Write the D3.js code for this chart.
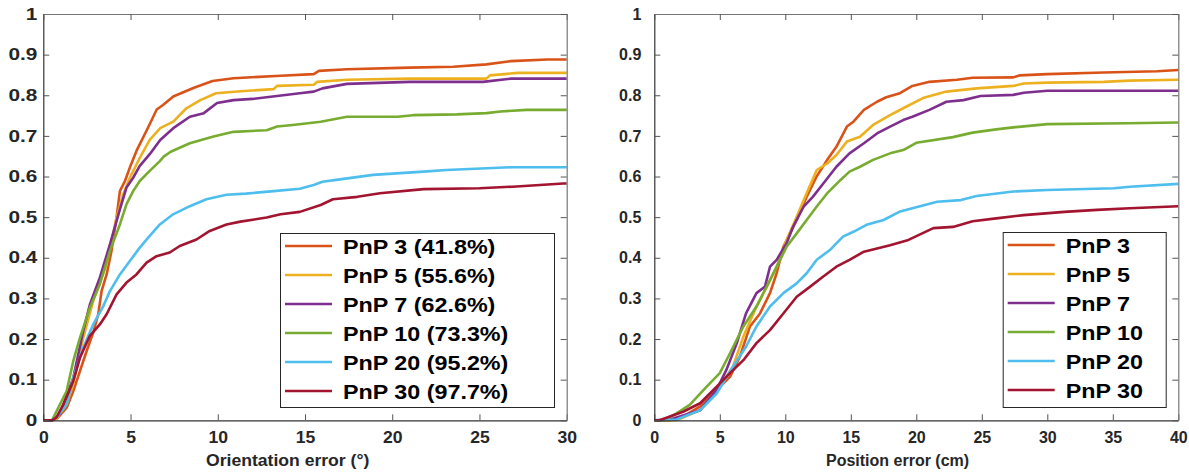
<!DOCTYPE html>
<html>
<head>
<meta charset="utf-8">
<script src="https://cdn.jsdelivr.net/npm/d3@7"></script>
<style>
  body { margin: 0; background: #fff; }
  svg { display: block; }
</style>
</head>
<body>
<svg id="chart" width="1189" height="472"></svg>
<script>
// series names + colours (matlab default order)
const names = ['PnP 3', 'PnP 5', 'PnP 7', 'PnP 10', 'PnP 20', 'PnP 30'];
const percents = ['41.8%', '55.6%', '62.6%', '73.3%', '95.2%', '97.7%'];
const colors = ['#D95319', '#EDB120', '#7E2F8E', '#77AC30', '#4DBEEE', '#A2142F'];

const yTicks = [0, 0.1, 0.2, 0.3, 0.4, 0.5, 0.6, 0.7, 0.8, 0.9, 1];
const oriTicks = [0, 5, 10, 15, 20, 25, 30];
const posTicks = [0, 5, 10, 15, 20, 25, 30, 35, 40];

// orientation error (deg) -> cumulative fraction
const ori3 = [[0,0],[0.5,0],[0.8,0.005],[1.34,0.031],[1.72,0.072],[2.1,0.121],[2.48,0.17],[2.86,0.216],[3.15,0.261],[3.34,0.318],[3.63,0.359],[3.91,0.417],[4.2,0.5],[4.39,0.564],[4.68,0.589],[4.96,0.622],[5.34,0.663],[6,0.72],[6.5,0.765],[6.86,0.776],[7.45,0.797],[8.6,0.818],[9.7,0.835],[10.9,0.842],[13.6,0.848],[15.5,0.852],[15.8,0.86],[17.4,0.864],[21,0.868],[23.5,0.87],[25.4,0.876],[26.8,0.884],[28.9,0.888],[30,0.888]];
const ori5 = [[0,0],[0.5,0],[0.8,0.006],[1.34,0.04],[1.72,0.09],[2.29,0.203],[2.86,0.294],[3.63,0.384],[4.2,0.499],[4.58,0.556],[4.96,0.597],[5.53,0.646],[6.1,0.69],[6.7,0.719],[7.45,0.735],[8.2,0.768],[9,0.788],[9.9,0.805],[11.3,0.81],[13.2,0.815],[13.4,0.823],[15.5,0.826],[15.7,0.833],[17.4,0.838],[21,0.841],[25.4,0.841],[25.6,0.849],[27.2,0.855],[30,0.855]];
const ori7 = [[0,0],[0.5,0],[0.95,0.015],[1.72,0.105],[2.29,0.22],[2.67,0.285],[3.24,0.351],[3.82,0.433],[4.39,0.519],[4.77,0.573],[5.15,0.597],[5.53,0.626],[6.1,0.655],[6.7,0.69],[7.45,0.719],[8.4,0.747],[9.2,0.756],[9.96,0.781],[10.9,0.788],[12,0.791],[13.4,0.798],[14.7,0.805],[15.5,0.809],[16,0.817],[17.4,0.828],[21,0.833],[25.2,0.833],[26.8,0.841],[30,0.841]];
const ori10 = [[0,0],[0.5,0],[0.95,0.039],[1.34,0.072],[1.72,0.146],[2.1,0.203],[2.67,0.277],[3.24,0.335],[3.82,0.417],[4.39,0.482],[4.77,0.532],[5.15,0.564],[5.53,0.589],[6.1,0.614],[6.68,0.638],[6.9,0.649],[7.3,0.661],[8.4,0.682],[9.7,0.698],[10.9,0.71],[12.8,0.714],[13.4,0.723],[14.3,0.727],[15.9,0.735],[17.4,0.747],[20.3,0.747],[21.2,0.751],[23.7,0.753],[25.4,0.756],[26.2,0.76],[27.7,0.764],[30,0.764]];
const ori20 = [[0,0],[0.5,0],[0.76,0.007],[1.34,0.039],[1.72,0.105],[2.29,0.179],[2.86,0.236],[3.44,0.281],[3.82,0.318],[4.39,0.359],[4.96,0.392],[5.53,0.425],[6.1,0.454],[6.68,0.482],[7.44,0.507],[8.4,0.527],[9.35,0.544],[10.5,0.555],[11.6,0.558],[13.2,0.564],[14.7,0.57],[15.5,0.579],[16,0.587],[17,0.593],[18.9,0.604],[21.8,0.612],[23.1,0.616],[26.9,0.623],[30,0.623]];
const ori30 = [[0,0],[0.5,0],[0.76,0.007],[1.15,0.039],[1.72,0.097],[2.1,0.154],[2.67,0.208],[3.24,0.236],[3.63,0.261],[4.2,0.31],[4.77,0.339],[5.34,0.359],[5.92,0.388],[6.49,0.404],[7.25,0.413],[7.82,0.429],[8.78,0.445],[9.54,0.466],[10.5,0.482],[11.3,0.489],[12.8,0.499],[13.6,0.507],[14.7,0.513],[15.9,0.53],[16.6,0.544],[18,0.55],[19.3,0.559],[21.8,0.569],[25,0.571],[26.9,0.575],[29.8,0.583],[30,0.583]];

// position error (cm) -> cumulative fraction
const pos3 = [[0,0],[1.2,0],[2.2,0.009],[3.5,0.034],[4.76,0.075],[5.78,0.107],[6.54,0.157],[7.3,0.231],[8.07,0.263],[8.83,0.313],[9.34,0.362],[9.85,0.427],[10.36,0.46],[10.87,0.493],[11.63,0.55],[12.39,0.6],[13.2,0.641],[13.9,0.673],[14.7,0.723],[15.2,0.735],[16,0.764],[17,0.784],[17.7,0.795],[18.75,0.805],[19.7,0.823],[21,0.833],[23.1,0.838],[24.3,0.843],[27.4,0.844],[27.9,0.849],[30,0.852],[34.3,0.856],[38.4,0.859],[40,0.862]];
const pos5 = [[0,0],[1.7,0],[3.5,0.025],[5,0.083],[6,0.132],[6.8,0.206],[7.8,0.28],[8.6,0.329],[9.34,0.378],[10.1,0.444],[10.87,0.501],[11.63,0.559],[12.4,0.616],[13.2,0.632],[13.9,0.653],[14.7,0.686],[15.7,0.698],[16.7,0.727],[18,0.751],[19,0.768],[20.5,0.793],[22.3,0.809],[24.6,0.817],[27.4,0.823],[28.2,0.829],[30,0.831],[34.3,0.833],[36.3,0.836],[40,0.838]];
const pos7 = [[0,0],[1.2,0.002],[3.5,0.025],[4.76,0.075],[5.5,0.124],[6.3,0.19],[7,0.263],[7.8,0.313],[8.45,0.329],[8.83,0.378],[9.34,0.395],[10.1,0.436],[10.6,0.477],[11.4,0.526],[12.1,0.55],[12.9,0.583],[13.9,0.624],[14.9,0.657],[16,0.682],[17,0.706],[18,0.723],[19,0.739],[19.7,0.747],[21,0.764],[22.3,0.784],[23.6,0.788],[24.9,0.798],[27.4,0.801],[28.2,0.806],[30,0.811],[40,0.811]];
const pos10 = [[0,0],[0.7,0],[1.7,0.017],[2.7,0.038],[4,0.083],[5,0.116],[5.78,0.165],[6.8,0.231],[7.8,0.28],[8.83,0.345],[9.6,0.395],[10.1,0.427],[10.87,0.46],[11.63,0.493],[12.4,0.526],[13.2,0.559],[14.2,0.591],[14.9,0.612],[15.7,0.624],[16.7,0.641],[18,0.657],[19,0.665],[20,0.683],[22.8,0.697],[24.3,0.708],[26.1,0.716],[27.4,0.721],[30,0.729],[36.1,0.731],[40,0.733]];
const pos20 = [[0,0],[1.7,0.002],[3.5,0.025],[4.76,0.066],[6,0.132],[7,0.181],[7.8,0.231],[8.83,0.28],[9.85,0.313],[10.87,0.337],[11.63,0.362],[12.4,0.395],[13.4,0.419],[14.4,0.452],[15.2,0.464],[16.2,0.481],[17.5,0.493],[18.7,0.513],[19.7,0.522],[21.6,0.538],[23.4,0.542],[24.6,0.552],[27.4,0.563],[30,0.567],[35.1,0.571],[36.3,0.575],[40,0.582]];
const pos30 = [[0,0],[0.4,0],[2.2,0.021],[3.5,0.042],[4.76,0.083],[5.78,0.116],[6.8,0.148],[7.8,0.19],[8.83,0.222],[9.85,0.263],[10.87,0.304],[11.9,0.329],[12.9,0.354],[13.9,0.378],[14.9,0.395],[16,0.415],[17,0.423],[18,0.431],[19.4,0.444],[21.3,0.473],[22.8,0.476],[24.3,0.49],[26.1,0.497],[28.2,0.505],[31.3,0.513],[33.8,0.518],[36.3,0.522],[40,0.527]];

const svg = d3.select('#chart');
const fontFam = '"Liberation Sans", Arial, Helvetica, sans-serif';

const drawPanel = (props) => {
  const { left, right, top, bottom, xMax, xTicks, series, title, legend, ySx, yPad, sx } = props;

  const x = d3.scaleLinear().domain([0, xMax]).range([left, right]);
  const y = d3.scaleLinear().domain([0, 1]).range([bottom, top]);
  const g = svg.append('g');

  // lines first, axes drawn over them
  const line = d3.line().x(d => x(d[0])).y(d => y(d[1]));
  g.selectAll('path.curve')
    .data(series)
    .join('path')
    .attr('class', 'curve')
    .attr('d', line)
    .attr('fill', 'none')
    .attr('stroke', (d, i) => colors[i])
    .attr('stroke-width', 2.6)
    .attr('stroke-linejoin', 'round');

  const xAxis = g.append('g')
    .attr('transform', `translate(0,${bottom})`)
    .call(d3.axisBottom(x).tickValues(xTicks).tickFormat(d3.format('d'))
      .tickSize(-6).tickSizeOuter(0).tickPadding(11));
  const yAxis = g.append('g')
    .attr('transform', `translate(${left},0)`)
    .call(d3.axisLeft(y).tickValues(yTicks).tickFormat(d => String(d))
      .tickSize(-6).tickSizeOuter(0));
  const topAxis = g.append('g')
    .attr('transform', `translate(0,${top})`)
    .call(d3.axisTop(x).tickValues(xTicks).tickFormat('').tickSize(-6).tickSizeOuter(0));
  const rightAxis = g.append('g')
    .attr('transform', `translate(${right},0)`)
    .call(d3.axisRight(y).tickValues(yTicks).tickFormat('').tickSize(-6).tickSizeOuter(0));

  [xAxis, yAxis].forEach(a => {
    a.select('.domain').attr('stroke', '#333').attr('stroke-width', 1.2);
    a.selectAll('.tick line').attr('stroke', '#555');
    a.selectAll('text')
      .attr('font-family', fontFam)
      .attr('font-weight', 'bold')
      .attr('font-size', '16px')
      .attr('fill', '#262626');
  });
  xAxis.selectAll('text').attr('transform', `scale(${sx},1)`);
  yAxis.selectAll('text')
    .attr('x', -yPad / ySx)
    .attr('transform', `scale(${ySx},1)`);

  [topAxis, rightAxis].forEach(a => {
    a.select('.domain').attr('stroke', '#777').attr('stroke-width', 1.2);
    a.selectAll('.tick line').attr('stroke', '#555');
  });

  g.append('text')
    .attr('transform', `translate(${title.x},466) scale(${sx},1)`)
    .attr('font-family', fontFam)
    .attr('font-weight', 'bold')
    .attr('font-size', '16px')
    .attr('fill', '#262626')
    .text(title.text);

  // legend box
  const lg = g.append('g').attr('transform', `translate(${legend.x},${legend.y})`);
  lg.append('rect')
    .attr('x', 0.5).attr('y', 0.5)
    .attr('width', legend.w).attr('height', legend.h)
    .attr('fill', '#fff')
    .attr('stroke', '#262626')
    .attr('stroke-width', 1);

  const entries = lg.selectAll('g.entry')
    .data(legend.labels)
    .join('g')
    .attr('class', 'entry')
    .attr('transform', (d, i) => `translate(0, ${13 + i * 29})`);

  entries.append('line')
    .attr('x1', 5).attr('x2', 52)
    .attr('stroke', (d, i) => colors[i])
    .attr('stroke-width', 2.6);

  entries.append('text')
    .attr('x', 63 / 1.11)
    .attr('dy', '0.36em')
    .attr('transform', 'scale(1.11,1)')
    .attr('font-family', fontFam)
    .attr('font-weight', 'bold')
    .attr('font-size', '21px')
    .attr('fill', '#000')
    .text(d => d);
};

drawPanel({
  left: 43.3, right: 566.7, top: 14, bottom: 420.3,
  xMax: 30, xTicks: oriTicks,
  series: [ori3, ori5, ori7, ori10, ori20, ori30],
  title: { text: 'Orientation error (°)', x: 206 },
  sx: 1.1, ySx: 1.3, yPad: 6,
  legend: { x: 280, y: 233, w: 274, h: 174, labels: names.map((n, i) => `${n} (${percents[i]})`) }
});

drawPanel({
  left: 654.3, right: 1178.3, top: 14, bottom: 420.3,
  xMax: 40, xTicks: posTicks,
  series: [pos3, pos5, pos7, pos10, pos20, pos30],
  title: { text: 'Position error (cm)', x: 826 },
  sx: 1.0, ySx: 1.0, yPad: 13,
  legend: { x: 1002.7, y: 232, w: 163, h: 175, labels: names }
});
</script>
</body>
</html>
